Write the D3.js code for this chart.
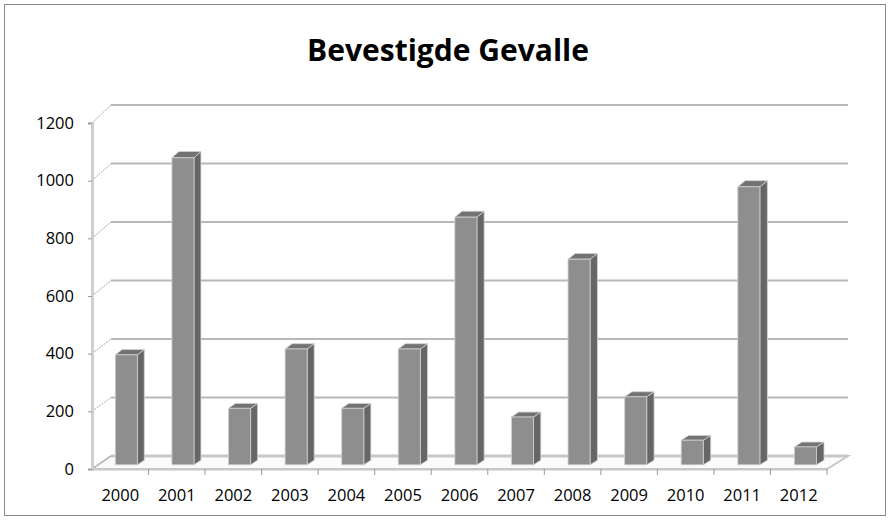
<!DOCTYPE html>
<html>
<head>
<meta charset="utf-8">
<script src="https://cdn.jsdelivr.net/npm/d3@7"></script>
<style>
  body { margin: 0; background: #fff; }
  svg text { font-family: "Open Sans", "DejaVu Sans", sans-serif; }
</style>
</head>
<body>
<div id="root"></div>
<script>
const years = ['2000', '2001', '2002', '2003', '2004', '2005', '2006', '2007', '2008', '2009', '2010', '2011', '2012'];
const cases = [380, 1060, 195, 400, 195, 400, 855, 165, 710, 235, 85, 960, 62];
const yTicks = [0, 200, 400, 600, 800, 1000, 1200];
const title = 'Bevestigde Gevalle';

const w = 891;
const h = 520;

const svg = d3.select('#root')
  .append('svg')
  .attr('width', w)
  .attr('height', h);

// rand
svg.append('rect')
  .attr('x', 4.5).attr('y', 4.5)
  .attr('width', 881).attr('height', 511)
  .attr('fill', '#fff')
  .attr('stroke', '#8a8a8a');

// titel
svg.append('text')
  .attr('x', 448)
  .attr('y', 61)
  .attr('text-anchor', 'middle')
  .style('font-size', '30px')
  .style('font-weight', 'bold')
  .text(title);

// 3d skale: voor (z=0) en agter (z=1)
const uFront = d3.scaleLinear().domain([0, years.length]).range([92, 827]);
const uBack = d3.scaleLinear().domain([0, years.length]).range([111, 848]);
const yFront = d3.scaleLinear().domain([0, 1200]).range([469, 123]);
const yBack = d3.scaleLinear().domain([0, 1200]).range([456, 105]);
const band = d3.scaleBand().domain(years).range([0, years.length])
  .paddingInner(0.61).paddingOuter(0.305);

function P(u, v, z) {
  const x = uFront(u) * (1 - z) + uBack(u) * z;
  const y = yFront(v) * (1 - z) + yBack(v) * z;
  return [x, y];
}
const line = d3.line();

// vloer
svg.append('path')
  .attr('d', line([P(0, 0, 0), P(years.length, 0, 0), P(years.length, 0, 1), P(0, 0, 1)]) + 'Z')
  .attr('fill', '#fbfbfb')
  .attr('stroke', '#c8c8c8')
  .attr('stroke-width', 2);

// agterste rooster en sykant
yTicks.forEach(t => {
  svg.append('path')
    .attr('d', line([P(0, t, 1), P(years.length, t, 1)]))
    .attr('stroke', t === 0 ? '#c8c8c8' : '#b8b8b8')
    .attr('stroke-width', t === 0 ? 3 : 2)
    .attr('fill', 'none');
  svg.append('path')
    .attr('d', line([P(0, t, 0), P(0, t, 1)]))
    .attr('stroke', '#a8a8a8')
    .attr('stroke-width', 1)
    .attr('stroke-dasharray', '2,1')
    .attr('fill', 'none');
});

// y-as
const yAxis = d3.axisLeft(yFront).tickValues(yTicks).tickFormat(d3.format('d'))
  .tickSize(4).tickPadding(14);
const gy = svg.append('g')
  .attr('transform', 'translate(92, 0)')
  .call(yAxis);
gy.select('.domain').attr('stroke', '#cfcfcf').attr('stroke-width', 3);
gy.selectAll('.tick line').attr('stroke', '#999');
gy.selectAll('.tick text').style('font-size', '16.5px').attr('fill', '#000');

// x-as
const xLabels = d3.scaleBand().domain(years).range([uFront(0), uFront(years.length)]);
const xAxis = d3.axisBottom(xLabels).tickSize(0).tickPadding(20);
const gx = svg.append('g')
  .attr('transform', 'translate(0, 469)')
  .call(xAxis);
gx.select('.domain').attr('stroke', '#c8c8c8').attr('stroke-width', 2);
gx.selectAll('.tick text').style('font-size', '16.5px').attr('fill', '#000');
d3.range(1, years.length + 1).forEach(i => {
  gx.append('line')
    .attr('x1', uFront(i)).attr('x2', uFront(i))
    .attr('y1', 0).attr('y2', 6)
    .attr('stroke', '#999');
});

// kolomme
const z0 = 0.32;
const z1 = 0.68;
const bars = svg.append('g').selectAll('g')
  .data(years.map((y, i) => ({ year: y, value: cases[i] })))
  .enter()
  .append('g');

bars.append('path')
  .attr('d', d => {
    const a = band(d.year) + band.bandwidth();
    return line([P(a, 0, z0), P(a, 0, z1), P(a, d.value, z1), P(a, d.value, z0)]) + 'Z';
  })
  .attr('fill', '#666')
  .attr('stroke', '#d0d0d0')
  .attr('stroke-width', 0.8);

bars.append('path')
  .attr('d', d => {
    const a = band(d.year);
    const b = a + band.bandwidth();
    return line([P(a, d.value, z0), P(b, d.value, z0), P(b, d.value, z1), P(a, d.value, z1)]) + 'Z';
  })
  .attr('fill', '#737373')
  .attr('stroke', '#d0d0d0')
  .attr('stroke-width', 0.8);

bars.append('path')
  .attr('d', d => {
    const a = band(d.year);
    const b = a + band.bandwidth();
    return line([P(a, 0, z0), P(b, 0, z0), P(b, d.value, z0), P(a, d.value, z0)]) + 'Z';
  })
  .attr('fill', '#8e8e8e')
  .attr('stroke', '#d0d0d0')
  .attr('stroke-width', 0.8);
</script>
</body>
</html>
